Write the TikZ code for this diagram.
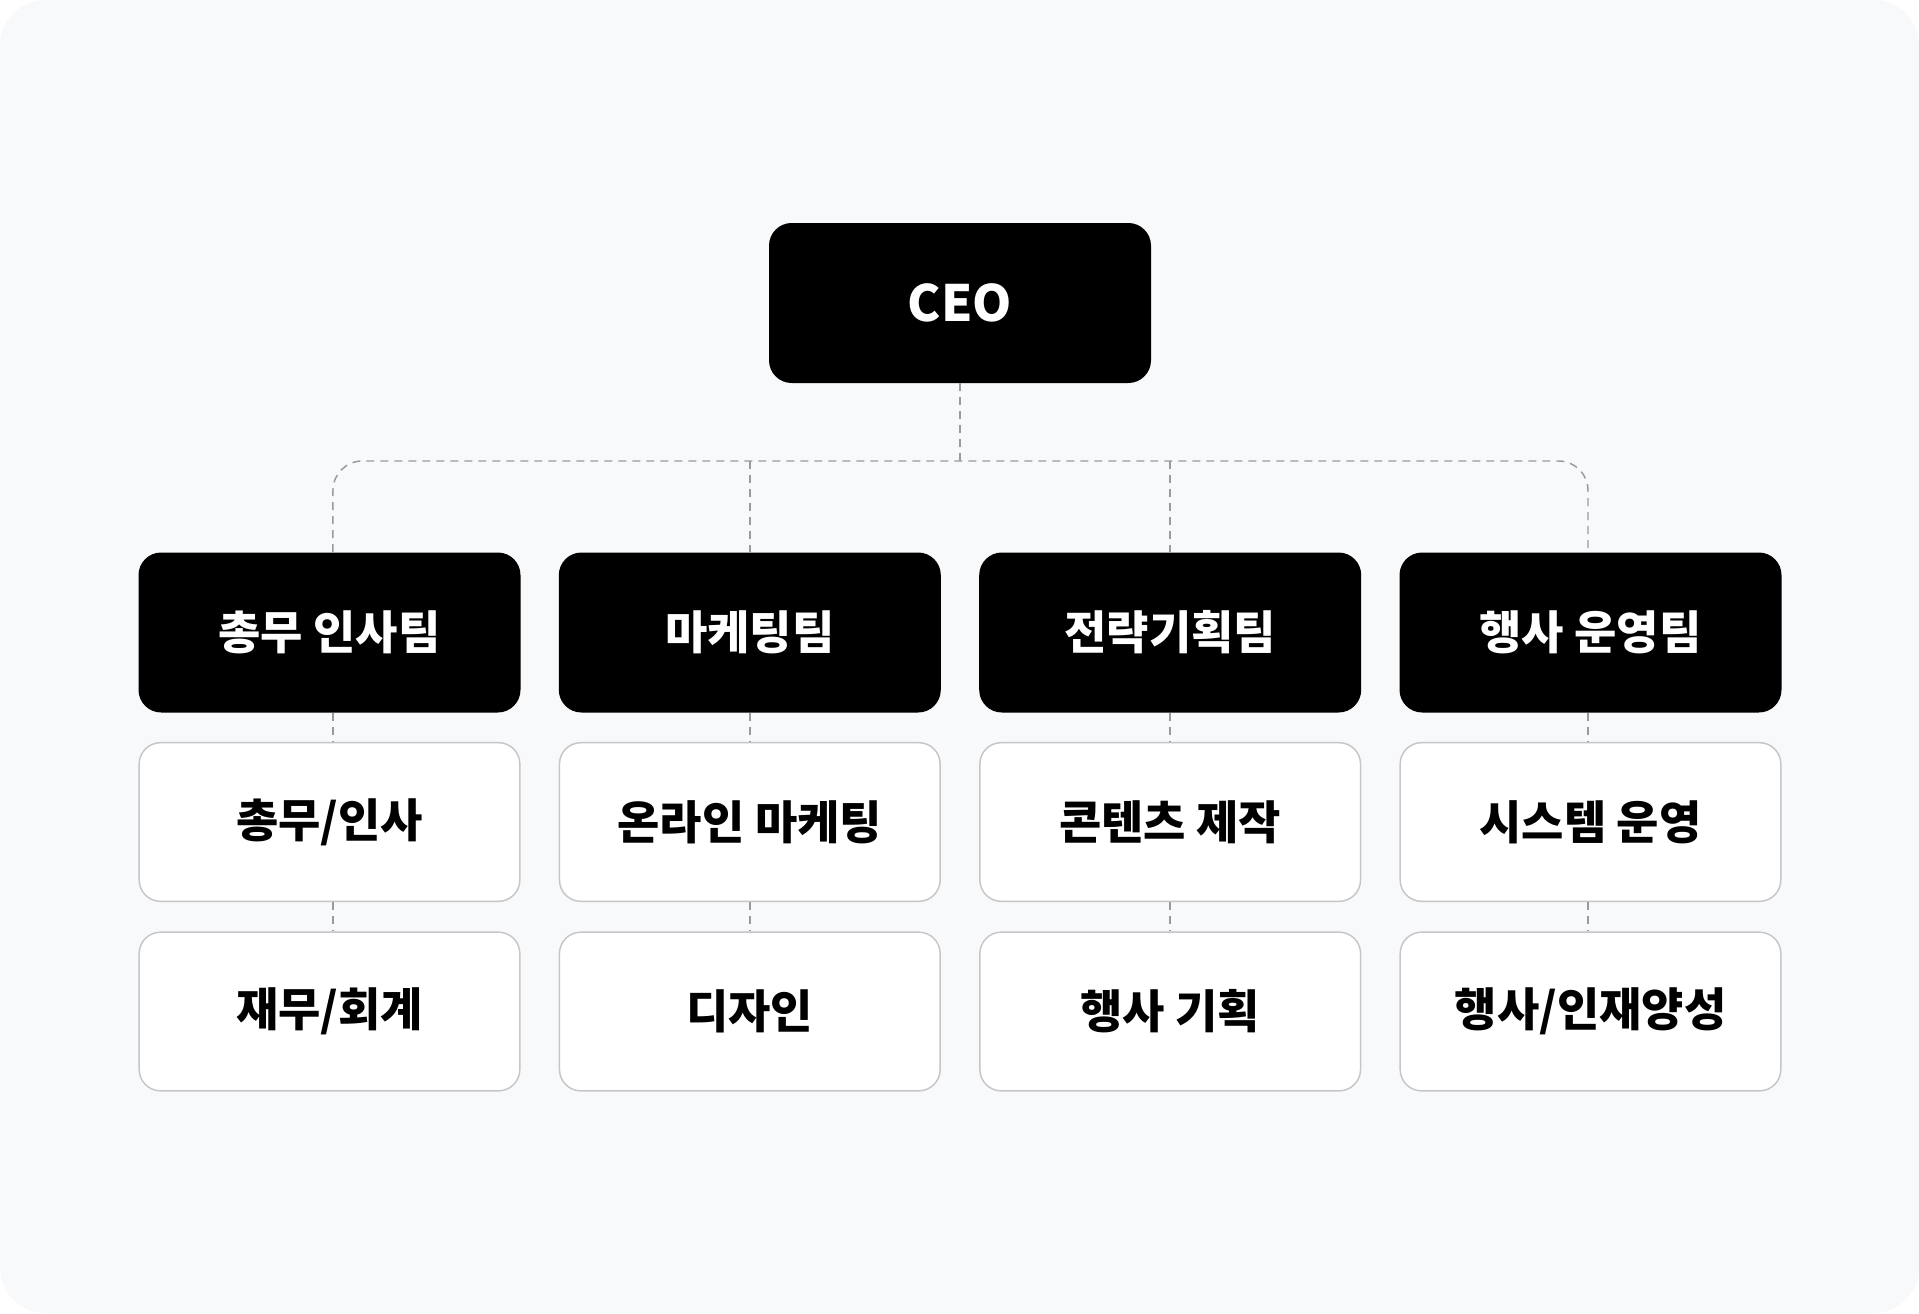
\documentclass[tikz,border=0pt]{standalone}
\usepackage{fontspec}
\setmainfont{Noto Sans CJK KR}
\definecolor{bgc}{HTML}{F8F9FB}
\definecolor{boxline}{HTML}{C6C6C8}
\definecolor{dashc}{HTML}{999A9C}
\begin{document}
\begin{tikzpicture}[x=0.75pt,y=-0.75pt,
  darkbox/.style={rectangle, rounded corners=17pt, fill=black, text=white,
    minimum width=286.5pt, minimum height=120pt, inner sep=0pt,
    font=\fontsize{34.5}{38}\selectfont\bfseries},
  ceobox/.style={darkbox, font=\fontsize{37.5}{41}\selectfont\bfseries},
  subbox/.style={rectangle, rounded corners=16pt, fill=white, draw=boxline, line width=1.1pt,
    text=black, minimum width=285.5pt, minimum height=119pt, inner sep=0pt,
    font=\fontsize{34.5}{38}\selectfont\bfseries},
  conn/.style={draw=dashc, line width=1.1pt, dash pattern=on 6pt off 4.5pt}
]
\useasboundingbox (0,0) rectangle (1919,1313);
\fill[bgc, rounded corners=34pt] (0,0) rectangle (1919,1313);

\node[ceobox] (ceo) at (960,303) {CEO};

\node[darkbox] (d1) at (329.5,632.5) {총무 인사팀};
\node[darkbox] (d2) at (749.8,632.5) {마케팅팀};
\node[darkbox] (d3) at (1170.2,632.5) {전략기획팀};
\node[darkbox] (d4) at (1590.5,632.5) {행사 운영팀};

\node[subbox] (a1) at (329.5,822) {총무/인사};
\node[subbox] (a2) at (749.8,822) {온라인 마케팅};
\node[subbox] (a3) at (1170.2,822) {콘텐츠 제작};
\node[subbox] (a4) at (1590.5,822) {시스템 운영};

\node[subbox] (b1) at (329.5,1011.5) {재무/회계};
\node[subbox] (b2) at (749.8,1011.5) {디자인};
\node[subbox] (b3) at (1170.2,1011.5) {행사 기획};
\node[subbox] (b4) at (1590.5,1011.5) {행사/인재양성};

\coordinate (hub) at (960,461);
\draw[conn] (ceo.south) -- (hub);
\draw[conn, rounded corners=22pt] ([xshift=2.6pt]d1.north) |- (hub) -| ([xshift=-1.9pt]d4.north);
\draw[conn] (d2.north |- hub) -- (d2.north);
\draw[conn] (d3.north |- hub) -- (d3.north);

\foreach \i/\s in {1/2.6,2/0,3/0,4/-1.9}{
  \draw[conn] ([xshift=\s pt]d\i.south) -- ([xshift=\s pt]a\i.north);
  \draw[conn] ([xshift=\s pt]a\i.south) -- ([xshift=\s pt]b\i.north);
}
\end{tikzpicture}
\end{document}
